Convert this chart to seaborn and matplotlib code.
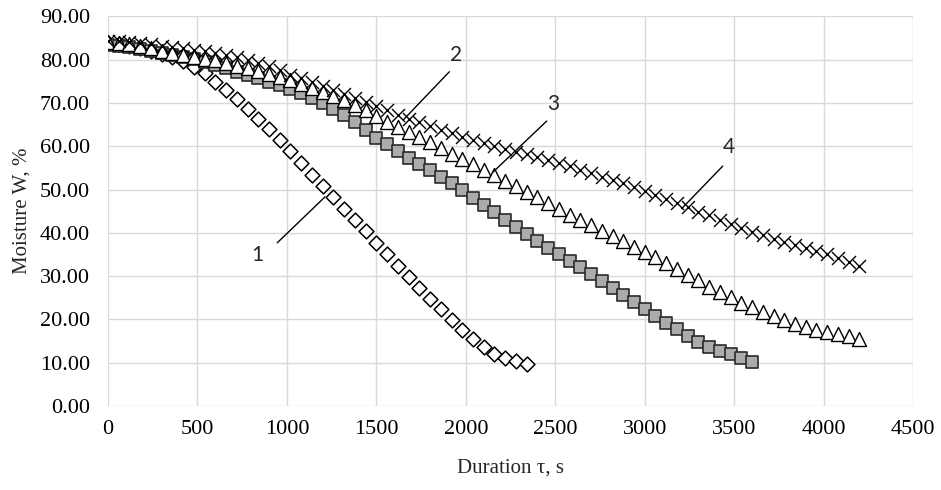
import numpy as np
import pandas as pd
import matplotlib
matplotlib.use("Agg")
import matplotlib.pyplot as plt
import seaborn as sns

# time step between measurements, s
step = 60

# curve 1 (diamonds)
moisture_1 = [83.8, 83.5, 83.1, 82.7, 82.1, 81.4, 80.6, 79.6, 78.3, 76.8,
              74.9, 72.9, 70.9, 68.7, 66.4, 63.9, 61.4, 58.8, 56.1, 53.4,
              50.9, 48.3, 45.6, 43.0, 40.4, 37.7, 35.0, 32.3, 29.8, 27.3,
              24.8, 22.3, 19.9, 17.6, 15.5, 13.6, 12.1, 11.0, 10.3, 9.6]

# curve 2 (grey squares)
moisture_2 = [83.4, 83.1, 82.8, 82.4, 82.0, 81.6, 81.1, 80.6, 80.1, 79.5,
              78.8, 78.0, 77.2, 76.4, 75.7, 74.9, 74.1, 73.2, 72.2, 71.1,
              69.9, 68.5, 67.1, 65.5, 63.7, 62.0, 60.4, 58.9, 57.3, 55.9,
              54.4, 52.9, 51.4, 49.8, 48.1, 46.4, 44.7, 43.0, 41.4, 39.8,
              38.2, 36.6, 35.1, 33.6, 32.0, 30.4, 28.9, 27.3, 25.7, 24.1,
              22.4, 20.8, 19.2, 17.7, 16.2, 14.8, 13.6, 12.7, 11.9, 11.1,
              10.2]

# curve 3 (triangles)
moisture_3 = [84.0, 83.8, 83.5, 83.1, 82.6, 82.1, 81.6, 81.1, 80.6, 80.2,
              79.8, 79.2, 78.6, 78.0, 77.3, 76.7, 76.0, 75.2, 74.4, 73.4,
              72.5, 71.5, 70.6, 69.5, 68.3, 67.0, 65.7, 64.5, 63.3, 62.1,
              60.9, 59.6, 58.3, 57.1, 55.8, 54.5, 53.3, 52.0, 50.8, 49.4,
              48.2, 46.9, 45.5, 44.1, 42.9, 41.7, 40.5, 39.2, 38.0, 36.8,
              35.6, 34.3, 33.0, 31.7, 30.3, 29.0, 27.6, 26.3, 25.1, 23.9,
              22.8, 21.7, 20.8, 19.8, 18.9, 18.2, 17.6, 17.1, 16.6, 16.1,
              15.5]

# curve 4 (crosses)
moisture_4 = [84.4, 84.2, 84.0, 83.8, 83.5, 83.2, 82.9, 82.6, 82.3, 81.9,
              81.5, 81.0, 80.5, 79.9, 79.3, 78.6, 77.6, 76.5, 75.7, 74.8,
              73.9, 73.0, 72.0, 71.1, 70.2, 69.2, 68.3, 67.3, 66.4, 65.5,
              64.7, 63.8, 63.0, 62.2, 61.4, 60.7, 60.0, 59.4, 58.7, 58.1,
              57.5, 56.9, 56.2, 55.4, 54.6, 53.8, 53.0, 52.2, 51.4, 50.5,
              49.7, 48.8, 47.9, 46.9, 45.9, 44.9, 44.0, 43.0, 42.1, 41.2,
              40.3, 39.4, 38.6, 37.8, 37.1, 36.4, 35.8, 35.0, 34.2, 33.3,
              32.4]

y_ticks = [0, 10, 20, 30, 40, 50, 60, 70, 80, 90]
x_ticks = [0, 500, 1000, 1500, 2000, 2500, 3000, 3500, 4000, 4500]

# curve number labels: text position and leader line (data coords)
label_names = ["1", "2", "3", "4"]
label_text_xy = [(834, 34.9), (1944, 81.0), (2486, 69.7), (3473, 59.9)]
label_line_from = [(946, 37.7), (1908, 77.2), (2452, 65.8), (3436, 55.4)]
label_line_to = [(1213, 48.3), (1651, 66.1), (2154, 54.1), (3207, 45.6)]


def make_frame(vals):
    return pd.DataFrame({"t": np.arange(len(vals)) * step, "W": vals})


def main():
    sns.set_style("white")
    plt.rcParams["font.family"] = ["Liberation Serif", "DejaVu Serif"]

    fig = plt.figure(figsize=(9.41, 4.90), dpi=100)
    ax = fig.add_axes([0.1148, 0.1714, 0.8555, 0.7953])

    ms = 1 / 1.389  # px -> pt at 100 dpi
    sns.scatterplot(data=make_frame(moisture_1), x="t", y="W", marker="D",
                    s=(10.5 * ms) ** 2, color="white", edgecolor="black",
                    linewidth=1.1, ax=ax, zorder=3)
    sns.scatterplot(data=make_frame(moisture_2), x="t", y="W", marker="s",
                    s=(12.0 * ms) ** 2, color="#ababab", edgecolor="#2a2a2a",
                    linewidth=1.2, ax=ax, zorder=4)
    sns.scatterplot(data=make_frame(moisture_3), x="t", y="W", marker="^",
                    s=(14.0 * ms) ** 2, color="white", edgecolor="black",
                    linewidth=1.0, ax=ax, zorder=5)
    sns.scatterplot(data=make_frame(moisture_4), x="t", y="W", marker="x",
                    s=(13.0 * ms) ** 2, color="black", linewidth=1.0,
                    ax=ax, zorder=6)

    for name, txt, p0, p1 in zip(label_names, label_text_xy,
                                 label_line_from, label_line_to):
        ax.plot([p0[0], p1[0]], [p0[1], p1[1]], color="black", lw=1.0,
                zorder=7)
        ax.text(txt[0], txt[1], name, ha="center", va="center",
                fontsize=15, family=["Lato", "DejaVu Sans"], zorder=7)

    ax.set_xlim(0, 4500)
    ax.set_ylim(0, 90)
    ax.set_xticks(x_ticks)
    ax.set_yticks(y_ticks)
    ax.set_xticklabels([str(v) for v in x_ticks])
    ax.set_yticklabels([f"{v:.2f}" for v in y_ticks])
    ax.tick_params(length=0, labelsize=16, colors="black")
    ax.tick_params(axis="y", pad=13)
    ax.tick_params(axis="x", pad=10)

    ax.grid(True, color="#d9d9d9", linewidth=1.0)
    ax.set_axisbelow(True)
    for sp in ax.spines.values():
        sp.set_visible(False)

    ax.set_xlabel("Duration τ, s", fontsize=15, labelpad=14)
    ax.set_ylabel("Moisture W, %", fontsize=15, labelpad=6)

    fig.savefig("out.png", dpi=100)


if __name__ == "__main__":
    main()
